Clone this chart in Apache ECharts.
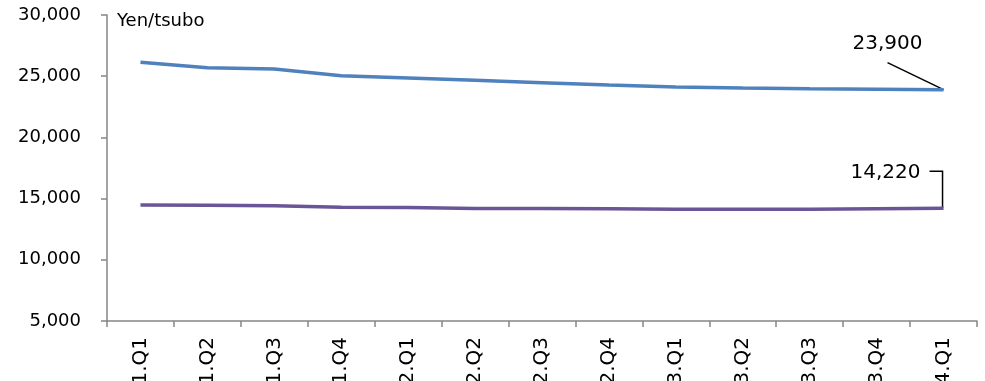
<!DOCTYPE html>
<html>
<head>
<meta charset="utf-8">
<style>
  html, body { margin: 0; padding: 0; background: #fff; }
  #chart { width: 985px; height: 381px; }
</style>
<script src="https://cdn.jsdelivr.net/npm/echarts@6/dist/echarts.min.js"></script>
</head>
<body>
<div id="chart"></div>
<script>
// Quarterly rents (Yen/tsubo)
const quarters = ['2021.Q1', '2021.Q2', '2021.Q3', '2021.Q4',
                  '2022.Q1', '2022.Q2', '2022.Q3', '2022.Q4',
                  '2023.Q1', '2023.Q2', '2023.Q3', '2023.Q4',
                  '2024.Q1'];
const upperSeries = [26130, 25700, 25590, 25040, 24850, 24660, 24470,
                     24280, 24120, 24040, 23980, 23940, 23900];
const lowerSeries = [14480, 14450, 14420, 14300, 14270, 14200, 14190,
                     14170, 14140, 14130, 14130, 14180, 14220];
const yTicks = [5000, 10000, 15000, 20000, 25000, 30000];
const unitLabel = 'Yen/tsubo';

const FONT = 'DejaVu Sans';
const fmt = v => v.toLocaleString('en-US');

const chart = echarts.init(document.getElementById('chart'));

// Only the final quarter carries a value label
function withEndLabel(values, offset) {
  return values.map((v, i) => i === values.length - 1
    ? { value: v, label: { show: true, position: 'inside', offset: offset,
        formatter: p => fmt(p.value), fontFamily: FONT, fontSize: 20,
        color: '#000', align: 'center', verticalAlign: 'middle' } }
    : v);
}

const unitText = {
  type: 'text', left: 117, top: 12,
  style: { text: unitLabel, font: '18px "DejaVu Sans"', fill: '#000' }
};

chart.setOption({
  animation: false,
  grid: { left: 107, right: 8, top: 15, bottom: 60,
          containLabel: false, outerBoundsMode: 'none' },
  xAxis: {
    type: 'category',
    data: quarters,
    boundaryGap: true,
    axisLine: { lineStyle: { color: '#868686', width: 1.5 } },
    axisTick: { show: true, length: 6, lineStyle: { color: '#868686', width: 1.5 } },
    axisLabel: { rotate: 90, margin: 16, fontFamily: FONT, fontSize: 20, color: '#000',
                 hideOverlap: false, interval: 0 },
    splitLine: { show: false }
  },
  yAxis: {
    type: 'value',
    min: yTicks[0],
    max: yTicks[yTicks.length - 1],
    interval: yTicks[1] - yTicks[0],
    axisLine: { show: true, lineStyle: { color: '#868686', width: 1.5 } },
    axisTick: { show: true, length: 6, lineStyle: { color: '#868686', width: 1.5 } },
    axisLabel: { margin: 26, fontFamily: FONT, fontSize: 18, color: '#000',
                 formatter: v => fmt(v) },
    splitLine: { show: false }
  },
  graphic: [unitText],
  series: [
    {
      type: 'line',
      data: withEndLabel(upperSeries, [-56, -46]),
      symbol: 'circle', symbolSize: 0, showSymbol: true,
      lineStyle: { color: '#4F81BD', width: 3.5 },
      itemStyle: { color: '#4F81BD' }
    },
    {
      type: 'line',
      data: withEndLabel(lowerSeries, [-58, -35]),
      symbol: 'circle', symbolSize: 0, showSymbol: true,
      lineStyle: { color: '#6B5596', width: 3.5 },
      itemStyle: { color: '#6B5596' }
    }
  ]
});

// Leader lines from the end labels to the final data points
const last = quarters.length - 1;
const pU = chart.convertToPixel({ seriesIndex: 0 }, [last, upperSeries[last]]);
const pL = chart.convertToPixel({ seriesIndex: 1 }, [last, lowerSeries[last]]);
chart.setOption({
  graphic: [
    unitText,
    {
      type: 'polyline',
      shape: { points: [[pU[0] - 56, pU[1] - 27], pU] },
      style: { stroke: '#000', lineWidth: 1.5, fill: null }
    },
    {
      type: 'polyline',
      shape: { points: [[pL[0] - 14, pL[1] - 37], [pL[0] - 1, pL[1] - 37], [pL[0] - 1, pL[1]]] },
      style: { stroke: '#000', lineWidth: 1.5, fill: null }
    }
  ]
});
</script>
</body>
</html>
